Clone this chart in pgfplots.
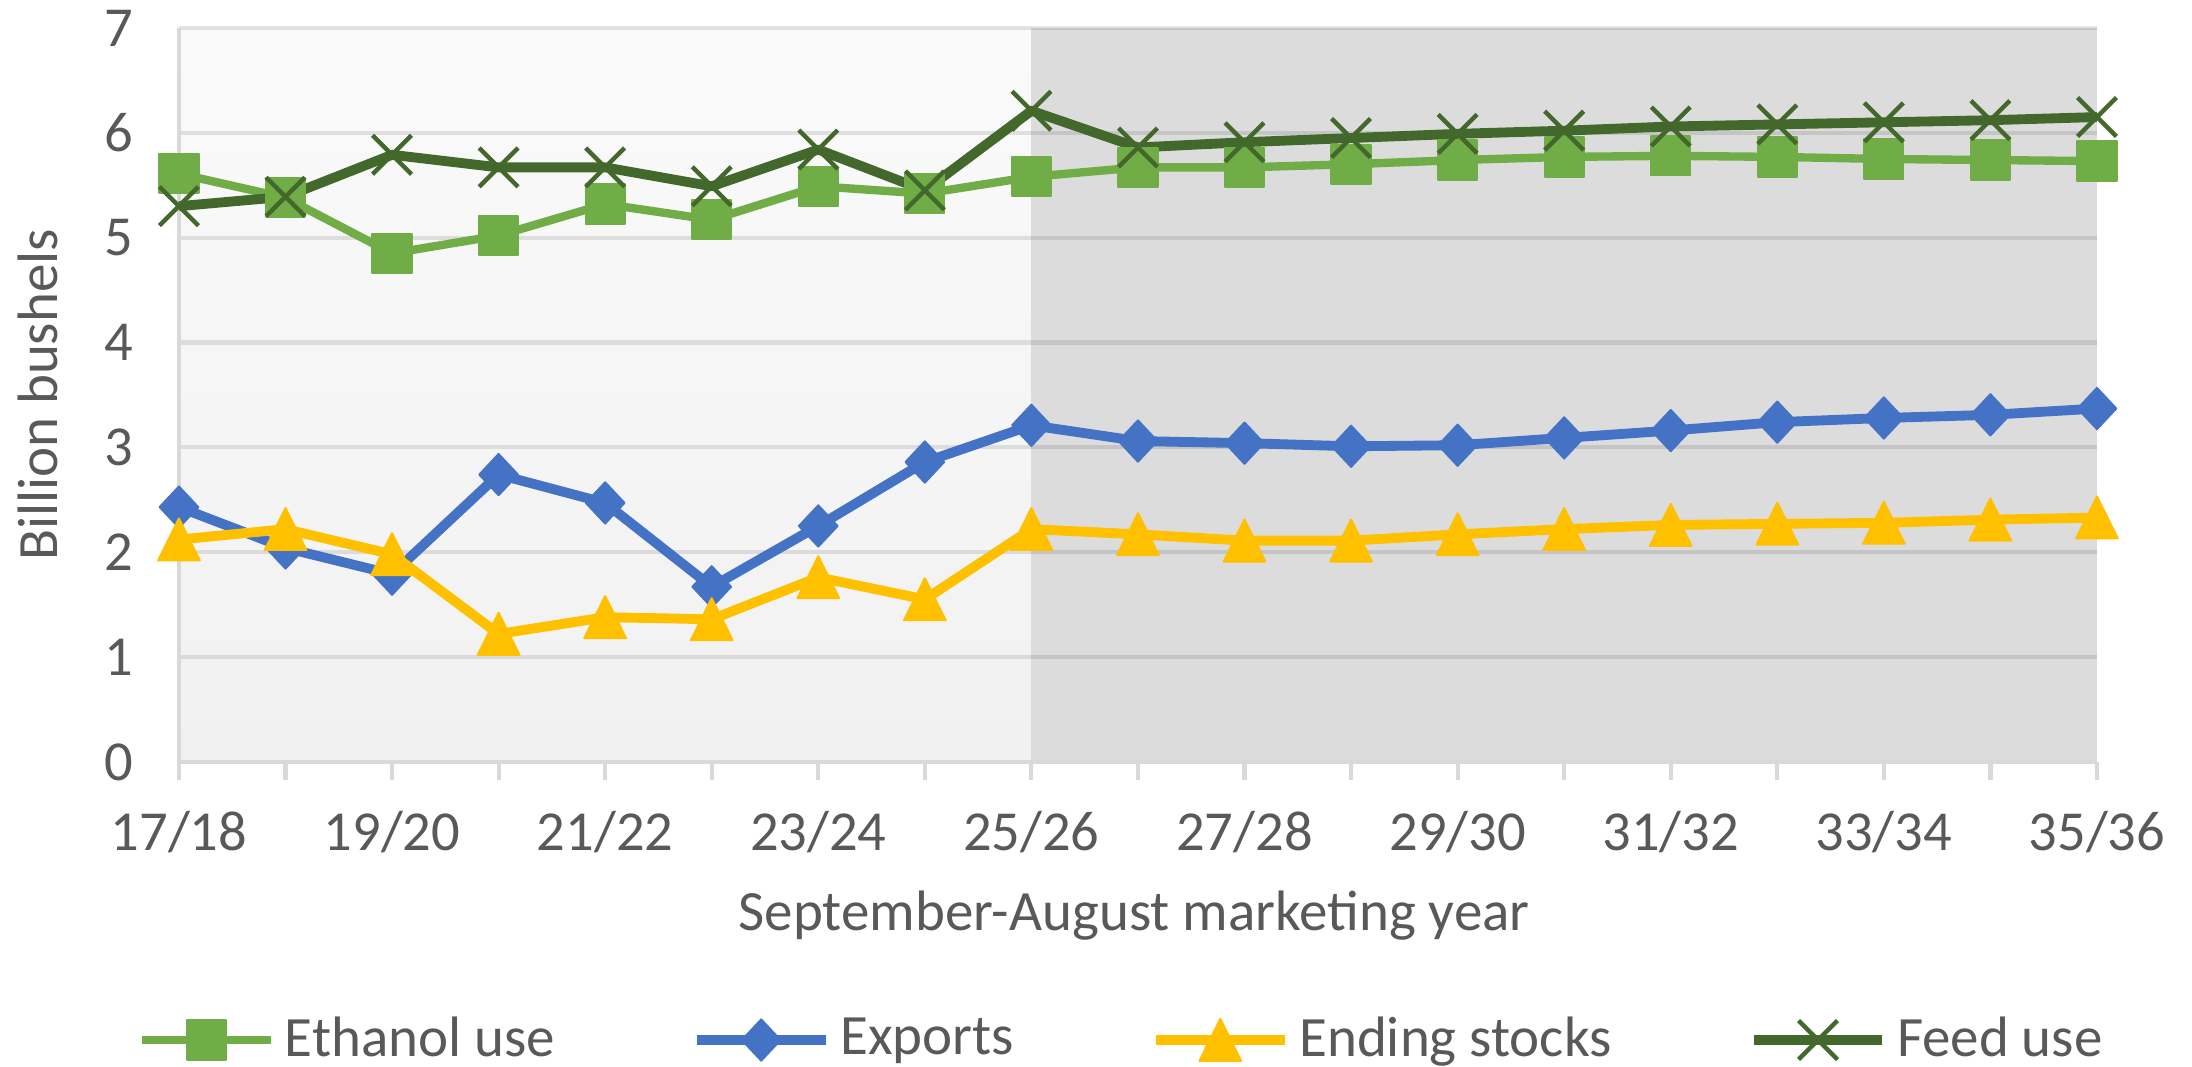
\documentclass[border=0pt]{standalone}
\usepackage{fontspec}
\setmainfont{Carlito}
\usepackage{pgfplots}
\pgfplotsset{compat=1.18}
\definecolor{ceth}{HTML}{70AD47}
\definecolor{cexp}{HTML}{4472C4}
\definecolor{cend}{HTML}{FFC000}
\definecolor{cfeed}{HTML}{43682B}
\definecolor{ctext}{HTML}{595959}
\definecolor{gridc}{HTML}{D9D9D9}
\definecolor{bgtop}{HTML}{FAFAFA}
\definecolor{bgbot}{HTML}{F1F1F1}
\definecolor{cdark}{HTML}{DCDCDC}
\begin{document}
\begin{tikzpicture}
\begin{axis}[
  at={(0,0)}, anchor=south west,
  set layers=standard,
  scale only axis, width=13.72cm, height=5.25cm,
  xmin=0, xmax=18, ymin=0, ymax=7,
  clip=false,
  xtick={0,...,18},
  xticklabels={17/18,,19/20,,21/22,,23/24,,25/26,,27/28,,29/30,,31/32,,33/34,,35/36},
  ytick={0,...,7},
  axis x line*=bottom, axis y line*=left,
  axis line style={draw=gridc, line width=0.85pt, -},
  ymajorgrids,
  major grid style={draw=black, opacity=0.1, line width=0.85pt},
  tick align=outside,
  major tick length=0.13cm,
  xtick style={draw=gridc, line width=0.85pt},
  ytick style={draw=none},
  tick label style={font=\fontsize{11.5}{13}\selectfont, text=ctext},
  xticklabel style={yshift=-0.1cm},
  yticklabel style={xshift=-0.07cm},
  /pgf/number format/assume math mode=true,
  xlabel={September-August marketing year},
  ylabel={Billion bushels},
  label style={font=\fontsize{11.6}{13}\selectfont, text=ctext},
  xlabel style={at={(axis description cs:0.498,-0.2095)}, anchor=center},
  ylabel style={at={(axis description cs:-0.0736,0.5)}, anchor=center},
  legend columns=4,
  legend style={at={(0.4934,-0.379)}, anchor=center, draw=none, fill=none,
    font=\fontsize{11.6}{13}\selectfont, text=ctext,
    /tikz/every even column/.append style={column sep=0.91cm}},
  legend image code/.code={\draw[mark repeat=2, mark phase=2, #1] plot coordinates {(0cm,0cm) (0.46cm,0cm) (0.92cm,0cm)};},
]
\begin{pgfonlayer}{axis background}
\shade[top color=bgtop, bottom color=bgbot] (axis cs:0,0) rectangle (axis cs:8,7);
\fill[cdark] (axis cs:8,0) rectangle (axis cs:18,7);
\end{pgfonlayer}

\addplot[color=ceth, line width=1.7pt, line join=round, mark=square*,
  mark size=4pt, mark options={solid, fill=ceth, draw=ceth, line width=0.4pt, rounded corners=0.6pt}]
coordinates {(0,5.61) (1,5.38) (2,4.85) (3,5.02) (4,5.32) (5,5.17) (6,5.49) (7,5.42) (8,5.58) (9,5.67) (10,5.67) (11,5.70) (12,5.74) (13,5.77) (14,5.78) (15,5.77) (16,5.75) (17,5.74) (18,5.73)};
\addlegendentry{Ethanol use}

\addplot[color=cexp, line width=2pt, line join=round, mark=diamond*,
  mark size=4.2pt, mark options={solid, fill=cexp, draw=cexp, line width=0.4pt, xscale=1.25}]
coordinates {(0,2.43) (1,2.04) (2,1.79) (3,2.74) (4,2.47) (5,1.67) (6,2.25) (7,2.86) (8,3.21) (9,3.06) (10,3.04) (11,3.01) (12,3.02) (13,3.09) (14,3.16) (15,3.24) (16,3.28) (17,3.31) (18,3.37)};
\addlegendentry{Exports}

\addplot[color=cend, line width=2pt, line join=round, mark=triangle*,
  mark size=5.7pt, mark options={solid, fill=cend, draw=cend, line width=0.4pt, xscale=0.86, yshift=-1.4pt}]
coordinates {(0,2.12) (1,2.22) (2,1.98) (3,1.22) (4,1.38) (5,1.36) (6,1.76) (7,1.55) (8,2.22) (9,2.17) (10,2.11) (11,2.11) (12,2.17) (13,2.22) (14,2.26) (15,2.27) (16,2.28) (17,2.31) (18,2.33)};
\addlegendentry{Ending stocks}

\addplot[color=cfeed, line width=2pt, line join=round, mark=x,
  mark size=5.6pt, mark options={solid, draw=cfeed, line width=0.9pt}]
coordinates {(0,5.30) (1,5.39) (2,5.79) (3,5.67) (4,5.67) (5,5.49) (6,5.84) (7,5.45) (8,6.21) (9,5.86) (10,5.91) (11,5.95) (12,5.99) (13,6.02) (14,6.06) (15,6.08) (16,6.10) (17,6.12) (18,6.15)};
\addlegendentry{Feed use}
\end{axis}
\pgfresetboundingbox
\path[use as bounding box] (-1.28,-2.18) rectangle (14.40,5.45);
\end{tikzpicture}
\end{document}
